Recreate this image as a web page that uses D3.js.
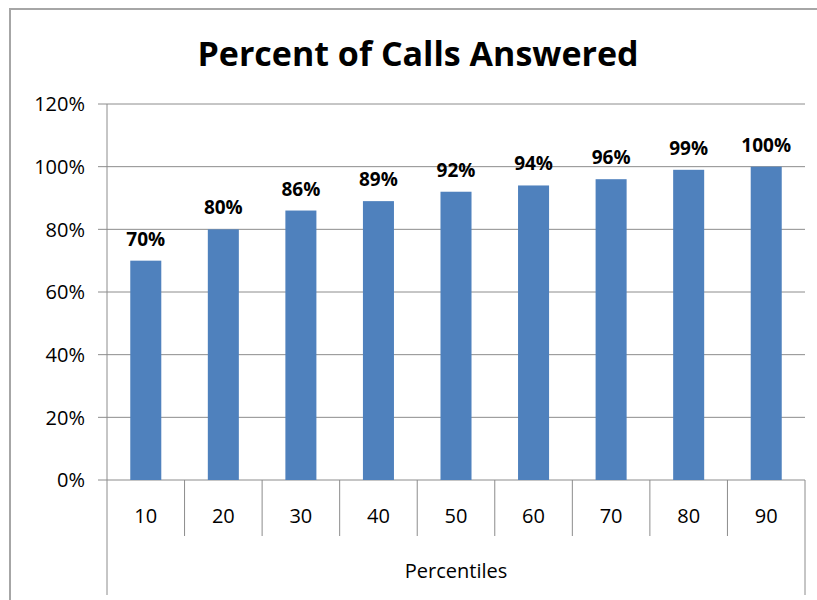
<!DOCTYPE html>
<html>
<head>
<meta charset="utf-8">
<script src="https://cdn.jsdelivr.net/npm/d3@7"></script>
<style>
  body { margin: 0; background: #fff; }
  svg { display: block; font-family: "Open Sans", "Liberation Sans", sans-serif; }
</style>
</head>
<body>
<div id="chart"></div>
<script>
const categories = ["10", "20", "30", "40", "50", "60", "70", "80", "90"];
const answered = [70, 80, 86, 89, 92, 94, 96, 99, 100];
const yTicks = [0, 20, 40, 60, 80, 100, 120];
const chartTitle = "Percent of Calls Answered";
const xTitle = "Percentiles";

const W = 817, H = 600;
const M = { left: 107, right: 12, top: 104, bottom: 120 };
const svg = d3.select("#chart").append("svg").attr("width", W).attr("height", H);

// outer frame (runs off the right and bottom edges)
svg.append("path").attr("d", `M10,${H + 5}V9H${W + 5}`)
    .attr("fill", "none").attr("stroke", "#a6a6a6").attr("stroke-width", 2);

svg.append("text").attr("x", 418).attr("y", 66).attr("text-anchor", "middle")
    .attr("font-size", 34).attr("font-weight", "bold").attr("fill", "#000").text(chartTitle);

const x = d3.scaleBand().domain(categories).range([M.left, W - M.right]).paddingInner(0.6).paddingOuter(0.3);
const y = d3.scaleLinear().domain([0, 120]).range([H - M.bottom, M.top]);
const grid = "#8c8c8c";

// gridlines + y labels
const gy = svg.append("g");
gy.selectAll("line").data(yTicks).join("line")
    .attr("x1", M.left - 9).attr("x2", W - M.right)
    .attr("y1", d => y(d)).attr("y2", d => y(d))
    .attr("stroke", grid).attr("stroke-width", 1);
gy.selectAll("text").data(yTicks).join("text")
    .attr("x", M.left - 22).attr("y", d => y(d)).attr("dy", "0.36em")
    .attr("text-anchor", "end").attr("font-size", 20).text(d => d + "%");

// bars
svg.append("g").selectAll("rect").data(answered).join("rect")
    .attr("x", (d, i) => x(categories[i])).attr("width", x.bandwidth())
    .attr("y", d => y(d)).attr("height", d => y(0) - y(d))
    .attr("fill", "#4f81bd");

// data labels
svg.append("g").selectAll("text").data(answered).join("text")
    .attr("x", (d, i) => x(categories[i]) + x.bandwidth() / 2).attr("y", d => y(d) - 15)
    .attr("text-anchor", "middle").attr("font-size", 19).attr("font-weight", "bold")
    .text(d => d + "%");

// axes lines
const step = x.step();
const edges = d3.range(categories.length + 1).map(i => M.left + i * step);
svg.append("g").selectAll("line").data(edges).join("line")
    .attr("x1", d => d).attr("x2", d => d)
    .attr("y1", (d, i) => i === 0 ? M.top : y(0))
    .attr("y2", (d, i) => (i === 0 || i === edges.length - 1) ? 595 : 536)
    .attr("stroke", grid).attr("stroke-width", 1);

// category labels
svg.append("g").selectAll("text").data(categories).join("text")
    .attr("x", d => x(d) + x.bandwidth() / 2).attr("y", 523)
    .attr("text-anchor", "middle").attr("font-size", 20).text(d => d);

svg.append("text").attr("x", (M.left + W - M.right) / 2).attr("y", 578)
    .attr("text-anchor", "middle").attr("font-size", 20).text(xTitle);
</script>
</body>
</html>
